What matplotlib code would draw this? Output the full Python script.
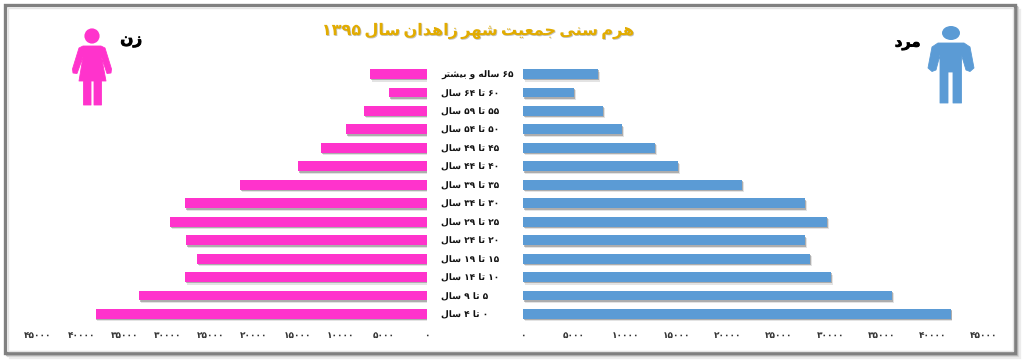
import matplotlib
matplotlib.use("Agg")
import matplotlib.pyplot as plt
import matplotlib.patheffects as pe
from matplotlib.patches import Rectangle, Circle, Ellipse, Polygon

plt.rcParams["text.hinting"] = "no_hinting"
plt.rcParams["text.hinting_factor"] = 1

W, H = 1024, 363
FONT = "DejaVu Sans"

age_groups = ["۶۵ ساله و بیشتر", "۶۰ تا ۶۴ سال", "۵۵ تا ۵۹ سال", "۵۰ تا ۵۴ سال", "۴۵ تا ۴۹ سال",
              "۴۰ تا ۴۴ سال", "۳۵ تا ۳۹ سال", "۳۰ تا ۳۴ سال", "۲۵ تا ۲۹ سال", "۲۰ تا ۲۴ سال",
              "۱۵ تا ۱۹ سال", "۱۰ تا ۱۴ سال", "۵ تا ۹ سال", "۰ تا ۴ سال"]
women = [6580, 4390, 7280, 9350, 12240, 14900, 21590, 27950, 29680, 27830, 26560, 27950, 33310, 38340]
men = [7320, 4980, 7810, 9670, 12890, 15140, 21390, 27540, 29690, 27540, 28030, 30080, 36040, 41750]
axis_ticks = [0, 5000, 10000, 15000, 20000, 25000, 30000, 35000, 40000, 45000]
title_text = "هرم سنی جمعیت شهر زاهدان سال ۱۳۹۵"
women_text = "زن"
men_text = "مرد"

FORMS = {
    "ه": (0xFEE9, 0xFEEA, 0xFEEB, 0xFEEC), "م": (0xFEE1, 0xFEE2, 0xFEE3, 0xFEE4),
    "س": (0xFEB1, 0xFEB2, 0xFEB3, 0xFEB4), "ن": (0xFEE5, 0xFEE6, 0xFEE7, 0xFEE8),
    "ی": (0xFBFC, 0xFBFD, 0xFBFE, 0xFBFF), "ج": (0xFE9D, 0xFE9E, 0xFE9F, 0xFEA0),
    "ع": (0xFEC9, 0xFECA, 0xFECB, 0xFECC), "ت": (0xFE95, 0xFE96, 0xFE97, 0xFE98),
    "ش": (0xFEB5, 0xFEB6, 0xFEB7, 0xFEB8), "ل": (0xFEDD, 0xFEDE, 0xFEDF, 0xFEE0),
    "ب": (0xFE8F, 0xFE90, 0xFE91, 0xFE92),
    "ر": (0xFEAD, 0xFEAE), "ز": (0xFEAF, 0xFEB0), "ا": (0xFE8D, 0xFE8E),
    "د": (0xFEA9, 0xFEAA), "و": (0xFEED, 0xFEEE),
}


def shape_word(word):
    out = []
    for i, c in enumerate(word):
        f = FORMS.get(c)
        if f is None:
            out.append(c)
            continue
        prev_joins = i > 0 and word[i - 1] in FORMS and len(FORMS[word[i - 1]]) == 4
        next_joins = i + 1 < len(word) and word[i + 1] in FORMS and len(f) == 4
        if prev_joins and next_joins:
            out.append(chr(f[3]))
        elif prev_joins:
            out.append(chr(f[1]))
        elif next_joins:
            out.append(chr(f[2]))
        else:
            out.append(chr(f[0]))
    return "".join(reversed(out))


def rtl(text, sep=" "):
    words = []
    for w in text.split(" "):
        words.append(w if w[0] in "۰۱۲۳۴۵۶۷۸۹" else shape_word(w))
    return sep.join(reversed(words))


def fa_digits(n):
    return str(n).translate(str.maketrans("0123456789", "۰۱۲۳۴۵۶۷۸۹"))


def box(x0, x1, y0, y1):
    return [x0 / W, 1 - y1 / H, (x1 - x0) / W, (y1 - y0) / H]


fig = plt.figure(figsize=(W / 100, H / 100), dpi=100, facecolor="white")

bg = fig.add_axes([0, 0, 1, 1], zorder=0)
bg.set_xlim(0, W)
bg.set_ylim(H, 0)
bg.axis("off")
for off, c in ((4.5, "#ececec"), (3.2, "#d8d8d8"), (2, "#b8b8b8")):
    bg.add_patch(Rectangle((5 + off, 5 + off), 1010, 348, fc="none", ec=c, lw=1.6))
bg.add_patch(Rectangle((5, 5), 1010, 348, fc="white", ec="#808080", lw=2.4))
bg.add_patch(Rectangle((7.5, 7.5), 1005, 343, fc="none", ec="#e4e4e4", lw=1.0))

pink = "#ff33cc"
blue = "#5b9bd5"

# woman icon
icon = dict(closed=True, fc=pink, ec=pink, lw=0.6, joinstyle="round")
bg.add_patch(Circle((92, 36), 7.6, fc=pink, ec="none"))
bg.add_patch(Polygon([(83, 46), (101, 46), (105, 48), (111.5, 69), (111, 73), (107, 73.5), (101.5, 57),
                      (106, 81), (101.5, 81), (101.5, 105), (94, 105), (94, 81), (91, 81), (91, 105),
                      (83.5, 105), (83.5, 81), (79, 81), (83, 57), (77, 73.5), (73, 73), (72.5, 69), (79, 48)],
                     **icon))
# man icon
icon = dict(closed=True, fc=blue, ec=blue, lw=0.6, joinstyle="round")
bg.add_patch(Ellipse((951, 33), 18, 14, fc=blue, ec="none"))
bg.add_patch(Polygon([(938, 43), (964, 43), (970, 47), (974, 68), (970, 71.5), (966, 70), (961.5, 55),
                      (961.5, 103), (953, 103), (953, 72), (948, 72), (948, 103), (940, 103), (940, 55),
                      (936, 70), (932, 71.5), (928, 68), (932, 47)],
                     **icon))

ylim = (13.5, -0.5)
y = list(range(len(age_groups)))
shadow = [pe.SimplePatchShadow(offset=(1.2, -1.8), shadow_rgbFace="#666666", alpha=0.18),
          pe.SimplePatchShadow(offset=(0.6, -1.0), shadow_rgbFace="#555555", alpha=0.38),
          pe.Normal()]

axL = fig.add_axes(box(38, 427, 64.8, 323.2), zorder=2)
axR = fig.add_axes(box(523, 984, 64.8, 323.2), zorder=2)
for ax in (axL, axR):
    ax.set_ylim(*ylim)
    ax.patch.set_alpha(0)
    for s in ax.spines.values():
        s.set_visible(False)
    ax.set_xticks(axis_ticks)
    ax.set_xticklabels([fa_digits(t) for t in axis_ticks], fontsize=6.6, family=FONT,
                       fontweight="bold", color="#333333")
    ax.tick_params(axis="x", length=0, pad=5.5)
axL.set_xlim(45000, 0)
axR.set_xlim(0, 45000)

axL.barh(y, women, height=0.54, color=pink, path_effects=shadow)
axR.barh(y, men, height=0.54, color=blue, path_effects=shadow)
axL.set_yticks([])
axR.set_yticks(y)
axR.set_yticklabels([rtl(a) for a in age_groups], fontsize=6.3, family=FONT, fontweight="bold",
                    color="#111111", ha="left")
axR.tick_params(axis="y", length=0, pad=(523 - 441) * 0.72)

bg.text(477, 31, rtl(title_text, sep="\u2009"), ha="center", va="center", fontsize=11.6, family=FONT,
        fontweight="bold", color="#e2ac00",
        path_effects=[pe.withSimplePatchShadow(offset=(0.6, -0.6), shadow_rgbFace="#888888", alpha=0.5)])
bold = [pe.withStroke(linewidth=0.6, foreground="black")]
bg.text(131, 40, rtl(women_text), ha="center", va="center", fontsize=11, family=FONT,
        fontweight="bold", color="black", path_effects=bold)
bg.text(908, 43, rtl(men_text), ha="center", va="center", fontsize=10.5, family=FONT,
        fontweight="bold", color="black", path_effects=bold)

fig.savefig("out.png", dpi=100, facecolor="white")
